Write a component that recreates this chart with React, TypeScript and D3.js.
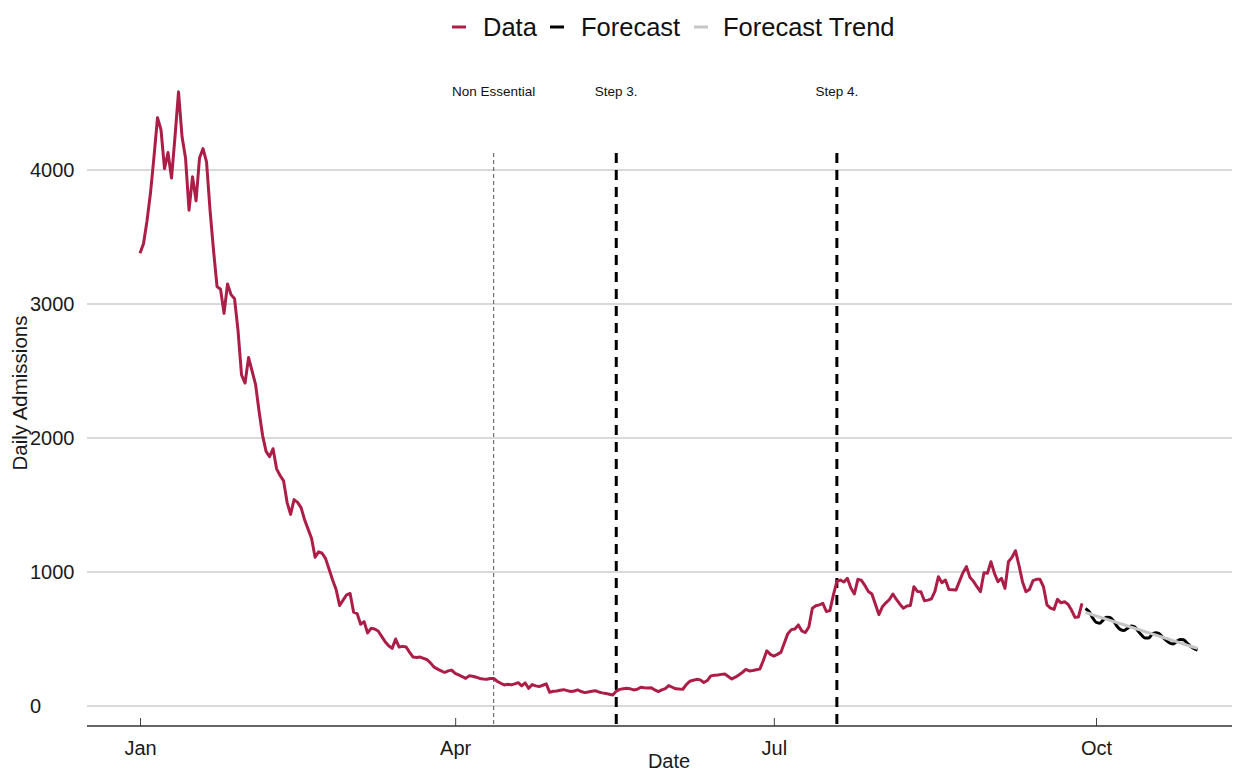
import React, { useEffect, useRef } from 'react';
import * as d3 from 'd3';

// daily admissions from 1 Jan 2021
const dataStart = '2021-01-01';
const admissions = [
  3378, 3450, 3620, 3830, 4100, 4390, 4300, 4010, 4130, 3940,
  4250, 4583, 4250, 4090, 3700, 3950, 3770, 4090, 4160, 4060,
  3700, 3400, 3130, 3110, 2930, 3150, 3070, 3040, 2800, 2470,
  2410, 2600, 2500, 2400, 2200, 2020, 1900, 1860, 1920, 1770,
  1720, 1680, 1520, 1430, 1540, 1520, 1480, 1390, 1320, 1250,
  1110, 1150, 1140, 1100, 1020, 940, 870, 750, 790, 830,
  840, 700, 690, 610, 630, 545, 580, 575, 560, 520,
  480, 450, 430, 500, 440, 445, 440, 400, 365, 362,
  365, 355, 345, 320, 290, 275, 262, 250, 262, 268,
  244, 232, 220, 206, 225, 222, 215, 206, 202, 199,
  205, 205, 185, 170, 157, 162, 158, 165, 174, 150,
  172, 132, 160, 150, 145, 155, 165, 102, 110, 112,
  118, 122, 115, 108, 112, 120, 108, 100, 105, 110,
  114, 105, 98, 94, 88, 82, 110, 124, 128, 132,
  128, 120, 125, 140, 136, 135, 137, 120, 107, 120,
  130, 152, 140, 128, 126, 125, 160, 185, 192, 199,
  195, 175, 190, 225, 230, 232, 236, 239, 220, 202,
  215, 232, 250, 273, 262, 265, 270, 275, 340, 412,
  385, 373, 385, 400, 470, 540, 570, 575, 605, 560,
  548, 590, 730, 748, 755, 766, 705, 712, 828, 930,
  940, 925, 953, 880, 836, 945, 938, 900, 855, 836,
  760, 682, 740, 770, 795, 836, 795, 760, 730, 746,
  750, 890, 855, 853, 786, 790, 800, 855, 965, 920,
  940, 870, 868, 865, 930, 994, 1040, 960, 930, 890,
  853, 994, 990, 1077, 990, 928, 953, 878, 1077, 1109,
  1159, 1050, 928, 853, 870, 935, 945, 945, 890, 754,
  730, 721, 796, 770, 778, 760, 716, 662, 665, 766,
];

// forecast from 28 Sep 2021
const forecastStart = '2021-09-28';
const forecast = [
  728, 705, 660, 625, 618, 640, 662, 660, 635, 595,
  570, 563, 580, 597, 590, 560, 530, 508, 507, 535,
  547, 540, 515, 490, 470, 463, 480, 497, 495, 470,
  445, 428, 418,
];
const forecastTrend = [
  698, 690, 681, 673, 664, 656, 648, 639, 631, 622,
  614, 606, 597, 589, 580, 572, 564, 555, 547, 538,
  530, 522, 513, 505, 496, 488, 480, 471, 463, 454,
  446, 438, 430,
];

const eventDates = ['2021-04-12', '2021-05-17', '2021-07-19'];
const eventLabels = ['Non Essential', 'Step 3.', 'Step 4.'];

const yTicks = [0, 1000, 2000, 3000, 4000];
const xTicks = ['2021-01-01', '2021-04-01', '2021-07-01', '2021-10-01'];
const legendLabels = ['Data', 'Forecast', 'Forecast Trend'];

const FONT = '"Liberation Sans", Arial, sans-serif';
const RED = '#AC1E47';
const TREND = '#c6c6c6';

const parse = (s: string) => new Date(s + 'T00:00:00Z');

const App: React.FC = () => {
  const svgRef = useRef<SVGSVGElement | null>(null);

  useEffect(() => {
    if (!svgRef.current) return;
    const svg = d3.select(svgRef.current);
    svg.selectAll('*').remove();

    const left = 87;
    const right = 1232;
    const axisY = 726;

    const x = d3.scaleUtc()
      .domain([parse('2021-01-01'), parse('2021-10-01')])
      .range([140, 1096]);
    const y = d3.scaleLinear().domain([0, 4000]).range([706, 170]);

    // gridlines
    svg.append('g')
      .selectAll('line')
      .data(yTicks)
      .join('line')
      .attr('x1', left)
      .attr('x2', right)
      .attr('y1', d => y(d))
      .attr('y2', d => y(d))
      .attr('stroke', '#cccccc')
      .attr('stroke-width', 1.6);

    // y axis labels (left aligned, like the original)
    const ya = svg.append('g')
      .attr('transform', 'translate(30,0)')
      .call(d3.axisLeft(y).tickValues(yTicks).tickSize(0).tickPadding(0).tickFormat(d3.format('d')));
    ya.select('.domain').remove();
    ya.selectAll('text')
      .attr('x', 0)
      .attr('text-anchor', 'start')
      .attr('font-size', 20)
      .attr('font-family', FONT)
      .attr('fill', '#1a1a1a');

    // x axis
    const xa = svg.append('g')
      .attr('transform', `translate(0,${axisY})`)
      .call(
        d3.axisBottom(x)
          .tickValues(xTicks.map(parse))
          .tickFormat(d => d3.utcFormat('%b')(d as Date))
          .tickSizeInner(-8)
          .tickSizeOuter(0)
          .tickPadding(15)
      );
    xa.select('.domain').remove();
    xa.selectAll('.tick line').attr('stroke', '#444');
    xa.selectAll('text')
      .attr('font-size', 20)
      .attr('font-family', FONT)
      .attr('fill', '#1a1a1a');

    svg.append('line')
      .attr('x1', left)
      .attr('x2', right)
      .attr('y1', axisY)
      .attr('y2', axisY)
      .attr('stroke', '#333')
      .attr('stroke-width', 1.3);

    // event markers
    eventDates.forEach((ds, i) => {
      const ex = x(parse(ds));
      const thin = i === 0;
      svg.append('line')
        .attr('x1', ex)
        .attr('x2', ex)
        .attr('y1', 153)
        .attr('y2', axisY)
        .attr('stroke', thin ? '#555' : '#000')
        .attr('stroke-width', thin ? 1 : 3)
        .attr('stroke-dasharray', thin ? '4,3' : '10,7');
      svg.append('text')
        .attr('x', ex)
        .attr('y', 96)
        .attr('text-anchor', 'middle')
        .attr('font-size', 13.5)
        .attr('font-family', FONT)
        .attr('fill', '#111')
        .text(eventLabels[i]);
    });

    const seriesLine = (start: string) =>
      d3.line<number>()
        .x((_, i) => x(d3.utcDay.offset(parse(start), i)))
        .y(d => y(d));

    svg.append('path')
      .datum(admissions)
      .attr('d', seriesLine(dataStart))
      .attr('fill', 'none')
      .attr('stroke', RED)
      .attr('stroke-width', 3)
      .attr('stroke-linejoin', 'round');

    svg.append('path')
      .datum(forecast)
      .attr('d', seriesLine(forecastStart).curve(d3.curveMonotoneX))
      .attr('fill', 'none')
      .attr('stroke', '#000')
      .attr('stroke-width', 3)
      .attr('stroke-linejoin', 'round');

    svg.append('path')
      .datum(forecastTrend)
      .attr('d', seriesLine(forecastStart))
      .attr('fill', 'none')
      .attr('stroke', TREND)
      .attr('stroke-width', 3);

    // axis titles
    svg.append('text')
      .attr('x', 669)
      .attr('y', 768)
      .attr('text-anchor', 'middle')
      .attr('font-size', 20)
      .attr('font-family', FONT)
      .attr('fill', '#1a1a1a')
      .text('Date');

    svg.append('text')
      .attr('transform', 'translate(27,393) rotate(-90)')
      .attr('text-anchor', 'middle')
      .attr('font-size', 20.5)
      .attr('font-family', FONT)
      .attr('fill', '#1a1a1a')
      .text('Daily Admissions');

    // legend
    const legendColors = [RED, '#000', TREND];
    const keyX = [452, 550, 694];
    const textX = [483, 581, 723];
    legendLabels.forEach((lab, i) => {
      svg.append('line')
        .attr('x1', keyX[i])
        .attr('x2', keyX[i] + 14)
        .attr('y1', 27)
        .attr('y2', 27)
        .attr('stroke', legendColors[i])
        .attr('stroke-width', 3);
      svg.append('text')
        .attr('x', textX[i])
        .attr('y', 36)
        .attr('font-size', 25.5)
        .attr('font-family', FONT)
        .attr('fill', '#111')
        .text(lab);
    });
  }, []);

  return (
    <svg
      ref={svgRef}
      width={1242}
      height={774}
      style={{ position: 'absolute', left: 0, top: 0, background: '#fff' }}
    />
  );
};

export default App;
